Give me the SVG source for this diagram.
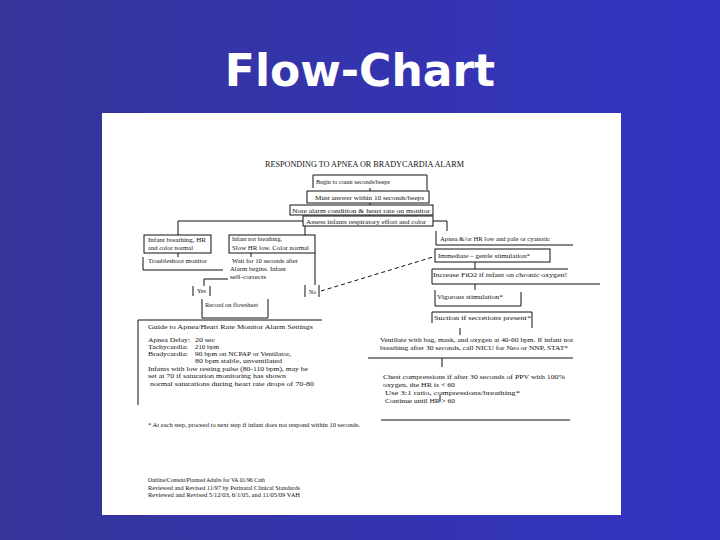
<svg xmlns="http://www.w3.org/2000/svg" width="720" height="540" viewBox="0 0 720 540">
<defs>
<linearGradient id="bg" x1="0" y1="0" x2="1" y2="0">
<stop offset="0" stop-color="#35359a"/>
<stop offset="1" stop-color="#3333c2"/>
</linearGradient>
</defs>
<style>
.t{font-family:"Liberation Serif","Times New Roman",serif;font-size:7px;fill:#111}
.h{font-size:8px}
.ln{fill:none;stroke:#111;stroke-width:1}
.ds{fill:none;stroke:#111;stroke-width:1;stroke-dasharray:4 3}
</style>
<rect x="0" y="0" width="720" height="540" fill="url(#bg)"/>
<text x="360" y="86" text-anchor="middle" font-family="DejaVu Sans, Verdana, sans-serif" font-weight="bold" font-size="44" fill="#fff">Flow-Chart</text>
<rect x="102" y="113" width="519" height="402" fill="#fff"/>
<text class="t h" x="265" y="167" textLength="199" lengthAdjust="spacingAndGlyphs">RESPONDING TO APNEA OR BRADYCARDIA ALARM</text>
<g id="connectors">
<path class="ln" d="M370,188 V191"/>
<path class="ln" d="M370,203 V205"/>
<path class="ln" d="M370,215 V216"/>
<path class="ln" d="M303,221 H178 V235"/>
<path class="ln" d="M305,226 V235"/>
<path class="ln" d="M433,221 H447 V231"/>
<path class="ln" d="M178,253 V257"/>
<path class="ln" d="M251,253 V257"/>
<path class="ln" d="M315,253 V285"/>
<path class="ln" d="M228,279 H204 V286"/>
<path class="ds" d="M321,291 L433,257"/>
<path class="ln" d="M475,262 V269"/>
<path class="ln" d="M475,284 V290"/>
<path class="ln" d="M460,328 V335"/>
<path class="ln" d="M442,358 V367"/>
<path class="ln" d="M440,395 V402"/>
</g>
<g id="n-begin"><path class="ln" d="M313,188 V175 H427 V190"/><text class="t" x="316" y="184" textLength="74" lengthAdjust="spacingAndGlyphs">Begin to count seconds/beeps</text></g>
<g id="n-must"><rect class="ln" x="307" y="191" width="122" height="12"/><text class="t" x="315" y="200" textLength="109" lengthAdjust="spacingAndGlyphs">Must answer within 10 seconds/beeps</text></g>
<g id="n-note"><rect class="ln" x="290" y="205" width="143" height="10"/><text class="t" x="292" y="213" textLength="138" lengthAdjust="spacingAndGlyphs">Note alarm condition &amp; heart rate on monitor</text></g>
<g id="n-assess"><rect class="ln" x="303" y="216" width="130" height="10"/><text class="t" x="306" y="224" textLength="120" lengthAdjust="spacingAndGlyphs">Assess infants respiratory effort and color</text></g>
<g id="n-breathing"><rect class="ln" x="144" y="235" width="67" height="18"/><text class="t" x="148" y="242" textLength="58" lengthAdjust="spacingAndGlyphs">Infant breathing, HR</text><text class="t" x="148" y="250" textLength="45" lengthAdjust="spacingAndGlyphs">and color normal</text></g>
<g id="n-trouble"><path class="ln" d="M143,257 V270 H223"/><text class="t" x="148" y="263" textLength="59" lengthAdjust="spacingAndGlyphs">Troubleshoot monitor</text></g>
<g id="n-notbreathing"><rect class="ln" x="229" y="235" width="86" height="18"/><text class="t" x="232" y="241" textLength="50" lengthAdjust="spacingAndGlyphs">Infant not breathing,</text><text class="t" x="232" y="250" textLength="77" lengthAdjust="spacingAndGlyphs">Slow HR low. Color normal</text></g>
<g id="n-wait"><text class="t" x="232" y="263" textLength="66" lengthAdjust="spacingAndGlyphs">Wait for 10 seconds after</text><text class="t" x="230" y="271" textLength="56" lengthAdjust="spacingAndGlyphs">Alarm begins. Infant</text><text class="t" x="230" y="279" textLength="36" lengthAdjust="spacingAndGlyphs">self-corrects</text></g>
<g id="n-yes"><path class="ln" d="M193,286 V296 M210,286 V296"/><text class="t" x="197" y="293" textLength="9" lengthAdjust="spacingAndGlyphs">Yes</text></g>
<g id="n-no"><path class="ln" d="M305,285 V297 M319,285 V297"/><text class="t" x="309" y="294" textLength="7" lengthAdjust="spacingAndGlyphs">No</text></g>
<g id="n-record"><path class="ln" d="M202,299 V318 H268 V299"/><text class="t" x="205" y="307" textLength="53" lengthAdjust="spacingAndGlyphs">Record on flowsheet</text></g>
<g id="n-apnea"><path class="ln" d="M436,231 V245 H573"/><text class="t" x="440" y="241" textLength="110" lengthAdjust="spacingAndGlyphs">Apnea &amp;/or HR low and pale or cyanotic</text></g>
<g id="n-immediate"><rect class="ln" x="435" y="249" width="115" height="13"/><text class="t" x="438" y="258" textLength="92" lengthAdjust="spacingAndGlyphs">Immediate – gentle stimulation*</text></g>
<g id="n-increase"><path class="ln" d="M568,269 H432 V284 H600"/><text class="t" x="433" y="277" textLength="134" lengthAdjust="spacingAndGlyphs">Increase FiO2 if infant on chronic oxygen!</text></g>
<g id="n-vigorous"><path class="ln" d="M435,290 V306 H521 V292"/><text class="t" x="437" y="299" textLength="66" lengthAdjust="spacingAndGlyphs">Vigorous stimulation*</text></g>
<g id="n-suction"><path class="ln" d="M432,323 V312 H532 V328"/><text class="t" x="434" y="320" textLength="97" lengthAdjust="spacingAndGlyphs">Suction if secretions present*</text></g>
<g id="n-ventilate"><text class="t" x="380" y="342" textLength="193" lengthAdjust="spacingAndGlyphs">Ventilate with bag, mask, and oxygen at 40-60 bpm.  If infant not</text><text class="t" x="380" y="350" textLength="188" lengthAdjust="spacingAndGlyphs">breathing after 30 seconds, call NICU for Neo or NNP, STAT*</text><path class="ln" d="M368,358 H573"/></g>
<g id="n-chest"><text class="t" x="383" y="379" textLength="182" lengthAdjust="spacingAndGlyphs">Chest compressions if after 30 seconds of PPV with 100%</text><text class="t" x="383" y="387" textLength="72" lengthAdjust="spacingAndGlyphs">oxygen, the HR is &lt; 60</text><text class="t" x="385" y="395" textLength="135" lengthAdjust="spacingAndGlyphs">Use 3:1 ratio, compressions/breathing*</text><text class="t" x="385" y="403" textLength="70" lengthAdjust="spacingAndGlyphs">Continue until HR &gt; 60</text><path class="ln" d="M381,420 H570"/></g>
<g id="n-guide"><path class="ln" d="M138,405 V320 H322"/>
<text class="t" x="148" y="329" textLength="165" lengthAdjust="spacingAndGlyphs">Guide to Apnea/Heart Rate Monitor Alarm Settings</text>
<text class="t" x="148" y="342" textLength="42" lengthAdjust="spacingAndGlyphs">Apnea Delay:</text><text class="t" x="195" y="342" textLength="20" lengthAdjust="spacingAndGlyphs">20 sec</text>
<text class="t" x="148" y="349" textLength="40" lengthAdjust="spacingAndGlyphs">Tachycardia:</text><text class="t" x="195" y="349" textLength="24" lengthAdjust="spacingAndGlyphs">210 bpm</text>
<text class="t" x="148" y="356" textLength="40" lengthAdjust="spacingAndGlyphs">Bradycardia:</text><text class="t" x="195" y="356" textLength="96" lengthAdjust="spacingAndGlyphs">90 bpm on NCPAP or Ventilator,</text>
<text class="t" x="195" y="363" textLength="87" lengthAdjust="spacingAndGlyphs">80 bpm stable, unventilated</text>
<text class="t" x="148" y="371" textLength="160" lengthAdjust="spacingAndGlyphs">Infants with low resting pulse (80-110 bpm), may be</text>
<text class="t" x="148" y="378" textLength="138" lengthAdjust="spacingAndGlyphs">set at 70 if saturation monitoring has shown</text>
<text class="t" x="150" y="386" textLength="164" lengthAdjust="spacingAndGlyphs">normal saturations during heart rate drops of 70-80</text></g>
<g id="n-foot"><text class="t" x="148" y="427" textLength="212" lengthAdjust="spacingAndGlyphs">* At each step, proceed to next step if infant does not respond within 10 seconds.</text>
<text class="t" x="148" y="482" textLength="117" lengthAdjust="spacingAndGlyphs">Outline/Content/Planned Adults for VA 01/96 Cath</text>
<text class="t" x="148" y="490" textLength="152" lengthAdjust="spacingAndGlyphs">Reviewed and Revised 11/97 by Perinatal Clinical Standards</text>
<text class="t" x="148" y="497" textLength="152" lengthAdjust="spacingAndGlyphs">Reviewed and Revised 5/12/03, 6/1/05, and 11/05/09 VAH</text></g>
</svg>
